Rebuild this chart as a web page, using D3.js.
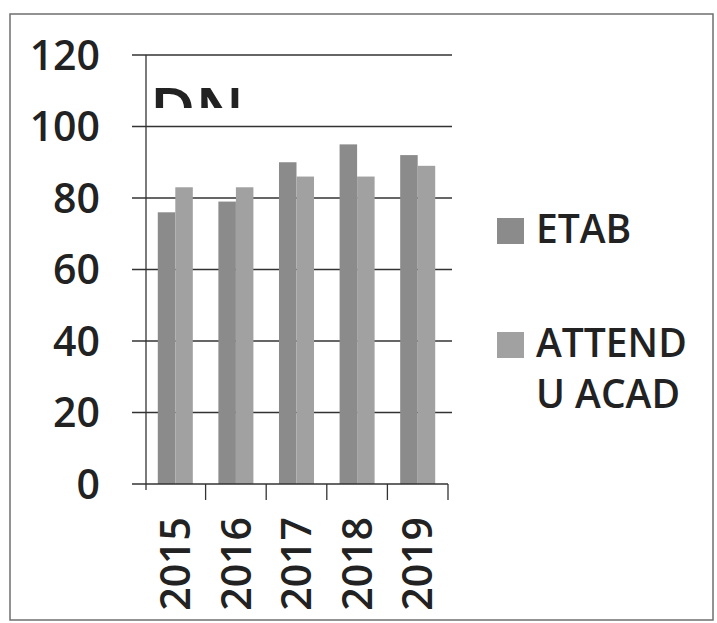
<!DOCTYPE html>
<html lang="en">

<head>
    <script src='https://d3js.org/d3.v7.min.js'></script>
    <style>
        body { margin: 0; background: #fff; }
        text { font-family: "Open Sans", Lato, sans-serif; font-weight: 600; fill: #222; }
    </style>
</head>

<body>

    <script>
        // chart data
        var years = ["2015", "2016", "2017", "2018", "2019"];
        var series = ["ETAB", "ATTENDU ACAD"];
        var etab = [76, 79, 90, 95, 92];
        var attendu = [83, 83, 86, 86, 89];
        var yTicks = [0, 20, 40, 60, 80, 100, 120];
        var colors = ["#8b8b8b", "#a1a1a1"];

        const width = 717; const height = 623;
        const svg = d3.select("body")
         .append("svg")
         .attr("width", width)
         .attr("height", height);

        // outer frame
        svg.append("rect")
         .attr("x", 10).attr("y", 14)
         .attr("width", 703).attr("height", 606)
         .attr("fill", "none")
         .attr("stroke", "#6f6f6f")
         .attr("stroke-width", 1.5);

        var x = d3.scaleBand().domain(years).range([145, 448]);
        var x1 = d3.scaleBand().domain(series).range([0, x.bandwidth()]).paddingOuter(0.73);
        var y = d3.scaleLinear().domain([0, 120]).range([484, 55]);

        // gridlines
        svg.selectAll(".grid")
         .data(yTicks.slice(1))
         .enter()
         .append("line")
         .attr("x1", 132).attr("x2", 452)
         .attr("y1", function(d) { return y(d); })
         .attr("y2", function(d) { return y(d); })
         .attr("stroke", "#333")
         .attr("stroke-width", 1.3);

        // clipped title fragment
        svg.append("clipPath").attr("id", "tclip")
         .append("rect").attr("x", 140).attr("y", 60).attr("width", 300).attr("height", 48);
        svg.append("text")
         .attr("clip-path", "url(#tclip)")
         .attr("x", 150).attr("y", 132)
         .attr("font-size", 62)
         .attr("font-weight", "bold")
         .text("DN");

        // bars
        var rows = years.map(function(yr, i) { return {year: yr, vals: [etab[i], attendu[i]]}; });
        var groups = svg.selectAll(".grp")
         .data(rows)
         .enter()
         .append("g")
         .attr("transform", function(d) { return "translate(" + x(d.year) + ",0)"; });
        groups.selectAll("rect")
         .data(function(d) { return d.vals.map(function(v, j) { return {s: series[j], v: v, j: j}; }); })
         .enter()
         .append("rect")
         .attr("x", function(d) { return x1(d.s); })
         .attr("width", x1.bandwidth())
         .attr("y", function(d) { return y(d.v); })
         .attr("height", function(d) { return y(0) - y(d.v); })
         .attr("fill", function(d) { return colors[d.j]; });

        // axes
        svg.append("line")
         .attr("x1", 146).attr("x2", 146)
         .attr("y1", y(120)).attr("y2", 490)
         .attr("stroke", "#333").attr("stroke-width", 1.3);
        svg.append("line")
         .attr("x1", 132).attr("x2", 448)
         .attr("y1", y(0)).attr("y2", y(0))
         .attr("stroke", "#333").attr("stroke-width", 1.3);
        var bounds = years.map(function(yr) { return x(yr); }).concat([x.range()[1]]);
        svg.selectAll(".xt")
         .data(bounds.slice(1))
         .enter()
         .append("line")
         .attr("x1", function(d) { return d; }).attr("x2", function(d) { return d; })
         .attr("y1", y(0)).attr("y2", 500)
         .attr("stroke", "#333").attr("stroke-width", 1.3);

        // y labels
        svg.selectAll(".yl")
         .data(yTicks)
         .enter()
         .append("text")
         .attr("x", 100)
         .attr("y", function(d) { return y(d); })
         .attr("dy", "0.36em")
         .attr("text-anchor", "end")
         .attr("font-size", 41)
         .text(function(d) { return d; });

        // x labels
        svg.selectAll(".xl")
         .data(years)
         .enter()
         .append("text")
         .attr("transform", function(d) { return "translate(" + (x(d) + x.bandwidth() / 2) + ",517) rotate(-90)"; })
         .attr("dy", "0.36em")
         .attr("text-anchor", "end")
         .attr("font-size", 41)
         .text(function(d) { return d; });

        // legend
        var legendY = [218, 332];
        var legendLines = [["ETAB"], ["ATTEND", "U ACAD"]];
        series.forEach(function(s, i) {
            svg.append("rect")
             .attr("x", 497).attr("y", legendY[i])
             .attr("width", 27).attr("height", 26)
             .attr("fill", colors[i]);
            legendLines[i].forEach(function(t, k) {
                svg.append("text")
                 .attr("x", 536)
                 .attr("y", legendY[i] + 25 + k * 51)
                 .attr("font-size", 39)
                 .text(t);
            });
        });
    </script>

</body>

</html>
